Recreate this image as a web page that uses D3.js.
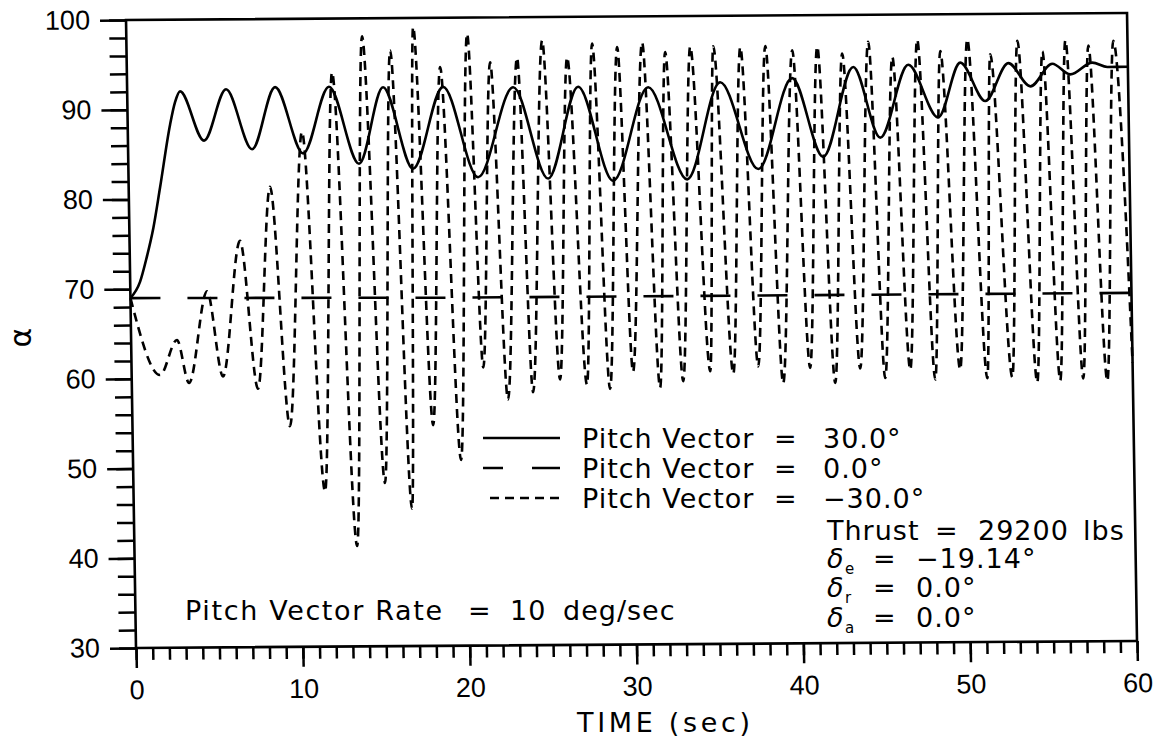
<!DOCTYPE html>
<html lang="en">
<head>
  <meta charset="UTF-8">
  <title>Alpha vs time</title>
  <style>
    body { margin: 0; background: #fff; }
    svg { display: block; background: #fff; }
    .lbl { font-family: "DejaVu Sans", sans-serif; font-size: 27px; letter-spacing: 1px; fill: #000; }
    .sub { font-family: "DejaVu Sans", sans-serif; font-size: 15px; fill: #000; }
  </style>
  <script src="https://d3js.org/d3.v7.min.js"></script>
</head>
<body>
  <svg width="1165" height="750"></svg>
  <script>
    // tick values
    const timeTicks = [0, 10, 20, 30, 40, 50, 60];
    const alphaTicks = [30, 40, 50, 60, 70, 80, 90, 100];

    // Pitch Vector = 30.0 deg  [time, alpha]
    const pitchPos30 = [
      [0, 69.0], [0.59, 70.8], [1.01, 73.5], [1.44, 76.8], [1.88, 81.3], [2.54, 88.3], [2.86, 90.8],
      [3.17, 92.0], [4.56, 86.5], [5.93, 92.2], [7.43, 85.5], [8.87, 92.4], [10.49, 85.0],
      [12.10, 92.4], [13.83, 83.8], [15.34, 92.3], [17.06, 83.2], [18.94, 92.3], [20.95, 82.2],
      [23.14, 92.2], [25.15, 82.0], [27.03, 92.2], [29.04, 81.7], [31.23, 92.1], [33.48, 81.8],
      [35.55, 92.6], [37.75, 82.9], [39.87, 93.0], [41.65, 84.2], [43.54, 94.2], [45.09, 86.3],
      [46.84, 94.4], [48.58, 88.5], [49.96, 94.6], [51.42, 90.3], [52.84, 94.5], [54.14, 91.9],
      [55.47, 94.4], [56.54, 93.2], [57.87, 94.5], [58.77, 94.0], [60, 94.0]
    ];

    // Pitch Vector = 0.0 deg
    const pitchZero = [
      [0, 69.0], [10, 68.9], [20, 68.8], [40, 68.8], [60, 68.8]
    ];

    // Pitch Vector = -30.0 deg
    const pitchNeg30 = [
      [0, 69.0], [1.70, 60.4], [2.75, 64.3], [3.43, 59.5], [4.60, 69.7], [5.47, 60.2], [6.62, 75.3],
      [7.56, 58.8], [8.47, 81.3], [9.44, 54.6], [10.44, 87.4], [11.48, 47.3], [12.30, 94.0],
      [13.35, 41.2], [14.13, 98.0], [15.08, 48.2], [15.80, 96.4], [16.68, 45.3], [17.20, 99.0],
      [18.02, 54.6], [18.78, 94.5], [19.66, 50.7], [20.43, 98.2], [21.08, 61.0], [21.78, 95.0],
      [22.53, 57.4], [23.40, 95.5], [24.04, 58.2], [24.92, 97.4], [25.67, 59.6], [26.40, 95.5],
      [27.28, 59.0], [27.91, 97.0], [28.66, 58.5], [29.41, 96.6], [30.05, 60.4], [30.91, 97.1],
      [31.66, 58.6], [32.28, 96.0], [33.05, 59.3], [33.79, 96.6], [34.68, 60.4], [35.17, 96.6],
      [36.06, 60.1], [36.79, 96.5], [37.56, 60.9], [38.29, 96.6], [39.04, 59.0], [39.90, 96.1],
      [40.67, 60.7], [41.40, 96.5], [42.16, 59.0], [42.89, 95.7], [43.67, 60.6], [44.46, 97.0],
      [45.16, 59.5], [45.89, 95.3], [46.67, 60.4], [47.40, 97.2], [48.16, 59.3], [48.77, 95.9],
      [49.66, 60.4], [50.40, 97.2], [51.28, 59.4], [51.76, 95.5], [52.78, 59.5], [53.40, 97.0],
      [54.27, 58.9], [54.89, 95.8], [55.65, 59.1], [56.28, 97.0], [57.03, 59.3], [57.65, 96.4],
      [58.47, 59.0], [59.15, 96.9], [60, 61.0]
    ];

    const svg = d3.select("svg");

    const x = d3.scaleLinear().domain([0, 60]).range([136, 1137]);
    const y = d3.scaleLinear().domain([30, 100]).range([648, 20]);

    // the scanned original is slightly sheared / rotated
    const g = svg.append("g")
      .attr("transform", "matrix(1,-0.007,0.0159,1,-10.3,0.95)");

    const line = d3.line()
      .x(d => x(d[0]))
      .y(d => y(d[1]))
      .curve(d3.curveMonotoneX);

    g.append("path").datum(pitchNeg30)
      .attr("d", line).attr("fill", "none").attr("stroke", "#000")
      .attr("stroke-width", 2.6).attr("stroke-dasharray", "9,6");

    g.append("path").datum(pitchZero)
      .attr("d", line).attr("fill", "none").attr("stroke", "#000")
      .attr("stroke-width", 2.6).attr("stroke-dasharray", "30,27");

    g.append("path").datum(pitchPos30)
      .attr("d", line).attr("fill", "none").attr("stroke", "#000")
      .attr("stroke-width", 2.6);

    // minor ticks
    g.append("g")
      .attr("transform", `translate(${x(0)},0)`)
      .call(d3.axisLeft(y).tickValues(d3.range(30, 101, 2)).tickSize(17).tickFormat(""))
      .call(a => a.select(".domain").remove());
    g.append("g")
      .attr("transform", `translate(0,${y(30)})`)
      .call(d3.axisBottom(x).tickValues(d3.range(0, 61, 1)).tickSize(12).tickFormat(""))
      .call(a => a.select(".domain").remove());

    // major ticks with labels
    const yAxis = g.append("g")
      .attr("transform", `translate(${x(0)},0)`)
      .call(d3.axisLeft(y).tickValues(alphaTicks).tickSize(26).tickPadding(10))
      .call(a => a.select(".domain").remove());
    const xAxis = g.append("g")
      .attr("transform", `translate(0,${y(30)})`)
      .call(d3.axisBottom(x).tickValues(timeTicks).tickSize(20).tickPadding(12))
      .call(a => a.select(".domain").remove());

    g.selectAll(".tick line").attr("stroke", "#000").attr("stroke-width", 2.5);
    [xAxis, yAxis].forEach(a => a.selectAll("text")
      .attr("fill", "#000")
      .style("font-family", "'Liberation Sans', Arial, sans-serif")
      .style("font-size", "27px"));

    // frame
    g.append("rect")
      .attr("x", x(0)).attr("y", y(100))
      .attr("width", x(60) - x(0)).attr("height", y(30) - y(100))
      .attr("fill", "none").attr("stroke", "#000").attr("stroke-width", 2.6);

    // axis titles
    svg.append("text").attr("class", "lbl")
      .attr("x", 664).attr("y", 732).attr("text-anchor", "middle")
      .attr("textLength", 174).attr("lengthAdjust", "spacing")
      .text("TIME (sec)");
    svg.append("text").attr("class", "lbl")
      .attr("transform", "translate(31,337) rotate(-90)")
      .attr("text-anchor", "middle")
      .style("font-size", "30px")
      .text("α");

    // legend
    const legend = [
      { dash: null, value: "30.0°" },
      { dash: "20,29,30", value: "0.0°" },
      { dash: "9,6", value: "−30.0°" }
    ];
    legend.forEach((d, i) => {
      const ly = 438 + i * 30;
      svg.append("line")
        .attr("x1", i === 2 ? 490 : 483).attr("x2", 560)
        .attr("y1", ly).attr("y2", ly)
        .attr("stroke", "#000").attr("stroke-width", 2.6)
        .attr("stroke-dasharray", d.dash);
      svg.append("text").attr("class", "lbl").attr("x", 582).attr("y", ly + 10).text("Pitch Vector");
      svg.append("text").attr("class", "lbl").attr("x", 774).attr("y", ly + 10).text("=");
      svg.append("text").attr("class", "lbl").attr("x", 823).attr("y", ly + 10).text(d.value);
    });

    // run conditions
    svg.append("text").attr("class", "lbl").attr("x", 827).attr("y", 540).text("Thrust");
    svg.append("text").attr("class", "lbl").attr("x", 935).attr("y", 540).text("=");
    svg.append("text").attr("class", "lbl").attr("x", 978).attr("y", 540).text("29200");
    svg.append("text").attr("class", "lbl").attr("x", 1083).attr("y", 540).text("lbs");

    const deflections = [
      { sub: "e", value: "−19.14°", yb: 568 },
      { sub: "r", value: "0.0°", yb: 597 },
      { sub: "a", value: "0.0°", yb: 627 }
    ];
    deflections.forEach(d => {
      svg.append("text").attr("class", "lbl").attr("x", 827).attr("y", d.yb)
        .style("font-style", "italic").text("δ");
      svg.append("text").attr("class", "sub").attr("x", 845).attr("y", d.yb + 6).text(d.sub);
      svg.append("text").attr("class", "lbl").attr("x", 873).attr("y", d.yb).text("=");
      svg.append("text").attr("class", "lbl").attr("x", 916).attr("y", d.yb).text(d.value);
    });

    svg.append("text").attr("class", "lbl").attr("x", 185).attr("y", 620)
      .attr("textLength", 258).attr("lengthAdjust", "spacing").text("Pitch Vector Rate");
    svg.append("text").attr("class", "lbl").attr("x", 468).attr("y", 620).text("=");
    svg.append("text").attr("class", "lbl").attr("x", 510).attr("y", 620).text("10");
    svg.append("text").attr("class", "lbl").attr("x", 563).attr("y", 620).text("deg/sec");
  </script>
</body>
</html>
